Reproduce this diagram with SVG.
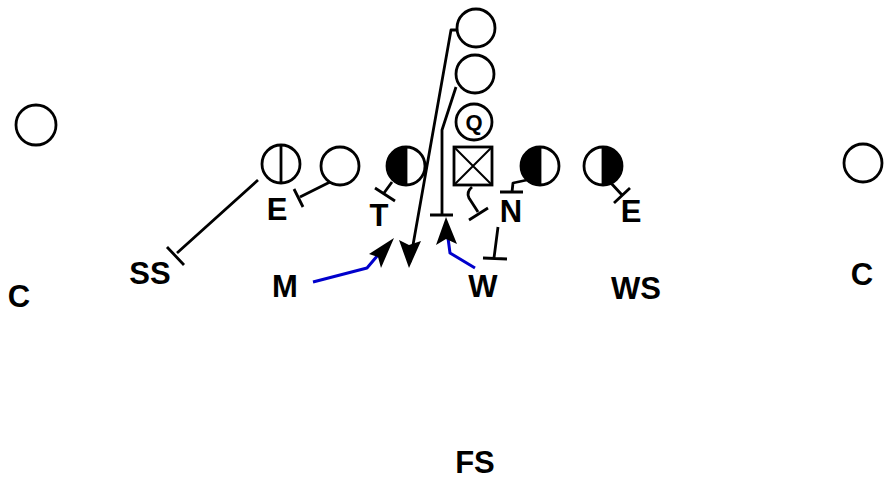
<svg xmlns="http://www.w3.org/2000/svg" width="892" height="492" viewBox="0 0 892 492">
<style>
.p{fill:#fff;stroke:#000;stroke-width:2.8}
.h{fill:#000;stroke:none}
.l{fill:none;stroke:#000;stroke-width:2.8;stroke-linejoin:round}
.b{fill:none;stroke:#0000cc;stroke-width:3;stroke-linejoin:round}
.t{font-family:"Liberation Sans",Arial,sans-serif;font-weight:bold;font-size:31px;fill:#000;text-anchor:middle}
</style>
<rect width="892" height="492" fill="#fff"/>
<g id="connectors">
<path class="l" d="M457,30 L451,30 L410,262"/>
<path class="h" d="M409,268 L399,240 L409,245 L421,241 Z"/>
<path class="l" d="M456,87 L442,130 L442,215 M430,215 L453,215"/>
<path class="l" d="M258,180 L177,253 M167,247 L184,265"/>
<path class="l" d="M330,182 L300,197 M294,189 L303,207"/>
<path class="l" d="M392,182 L384,193 M375,188 L395,201"/>
<path class="l" d="M472,187 Q466,192 469,198 L478,212 M469,220 L488,208"/>
<path class="l" d="M527,180 L513,183 L512,192 M500,192 L523,192"/>
<path class="l" d="M610,182 L622,195 M614,203 L630,188"/>
<path class="l" d="M498,227 L494,258 M483,258 L507,259"/>
<path class="b" d="M313,282 L367,268 L378,255"/>
<path class="h" d="M394,238 L369,254 L378,257 L381,268 Z"/>
<path class="b" d="M475,268 L450,253 L448,238"/>
<path class="h" d="M446,217 L436,245 L446,239 L457,244 Z"/>
</g>
<g id="QB"><circle class="p" cx="476" cy="28" r="19"/></g>
<g id="RB"><circle class="p" cx="475" cy="74" r="19"/></g>
<g id="Q"><circle class="p" cx="474" cy="122" r="18"/><text class="t" x="474" y="130" style="font-size:22px">Q</text></g>
<g id="center"><rect class="p" x="454" y="147" width="38" height="38"/><path class="l" d="M454,147 L492,185 M492,147 L454,185" style="stroke-width:2"/></g>
<g id="WR-left"><circle class="p" cx="36" cy="125" r="20"/></g>
<g id="WR-right"><circle class="p" cx="863" cy="163" r="19"/></g>
<g id="TE"><circle class="p" cx="281" cy="164" r="19"/><line class="l" x1="281" y1="145" x2="281" y2="183"/></g>
<g id="OL1"><circle class="p" cx="340" cy="166" r="19"/></g>
<g id="OL-T"><circle class="p" cx="406" cy="166" r="19"/><path class="h" d="M406,147 A19,19 0 0 0 406,185 Z"/><line class="l" x1="406" y1="147" x2="406" y2="185"/></g>
<g id="OL-N"><circle class="p" cx="540" cy="166" r="19"/><path class="h" d="M540,147 A19,19 0 0 0 540,185 Z"/><line class="l" x1="540" y1="147" x2="540" y2="185"/></g>
<g id="OL-E"><circle class="p" cx="603" cy="166" r="19"/><path class="h" d="M603,147 A19,19 0 0 1 603,185 Z"/><line class="l" x1="603" y1="147" x2="603" y2="185"/></g>
<g id="labels">
<text class="t" x="19" y="307">C</text>
<text class="t" x="150" y="284">SS</text>
<text class="t" x="277" y="220">E</text>
<text class="t" x="285" y="297">M</text>
<text class="t" x="379" y="226">T</text>
<text class="t" x="483" y="297">W</text>
<text class="t" x="511" y="222">N</text>
<text class="t" x="631" y="222">E</text>
<text class="t" x="636" y="299">WS</text>
<text class="t" x="862" y="285">C</text>
<text class="t" x="475" y="473">FS</text>
</g>
</svg>
